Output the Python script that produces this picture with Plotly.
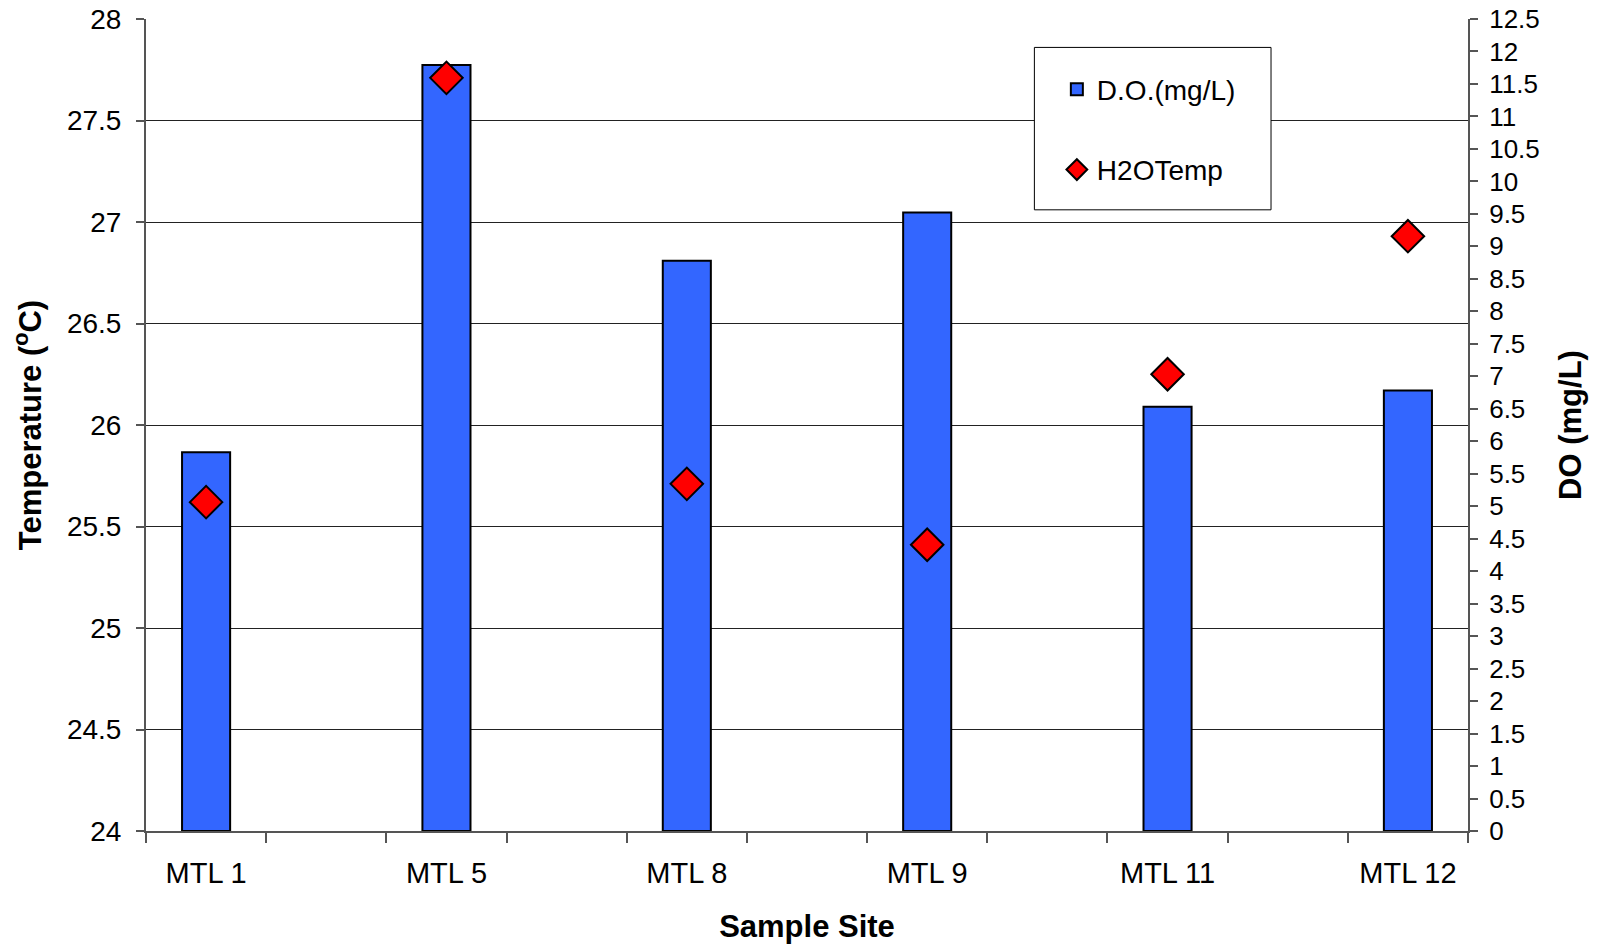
import plotly.graph_objects as go

sites = ["MTL 1", "MTL 5", "MTL 8", "MTL 9", "MTL 11", "MTL 12"]
do_mgL = [5.83, 11.79, 8.78, 9.52, 6.53, 6.78]
temp_C = [25.62, 27.71, 25.71, 25.41, 26.25, 26.93]

temp_ticks = [24 + 0.5 * i for i in range(9)]
do_ticks = [0.5 * i for i in range(26)]

FONT = "Liberation Sans, Arial, sans-serif"
xpos = [2 * i + 0.5 for i in range(len(sites))]

fig = go.Figure()
fig.add_trace(go.Bar(
    x=xpos, y=do_mgL, name="D.O.(mg/L)", yaxis="y", width=0.4,
    marker=dict(color="#3366FF", line=dict(color="black", width=2)),
    legendgroup="a",
))
fig.add_trace(go.Scatter(
    x=xpos, y=temp_C, name="H2OTemp", yaxis="y2", mode="markers",
    marker=dict(symbol="diamond", size=25, color="#FF0000",
                line=dict(color="black", width=2)),
    legendgroup="b",
))

fig.update_layout(
    width=1598, height=947,
    margin=dict(l=146, r=130, t=19, b=116, autoexpand=False),
    paper_bgcolor="white", plot_bgcolor="white",
    font=dict(family=FONT, color="black"),
    showlegend=True,
    legend=dict(x=0.689, y=0.944, xanchor="left", yanchor="top",
                bgcolor="rgba(0,0,0,0)", borderwidth=0,
                font=dict(size=28, family=FONT),
                traceorder="grouped", tracegroupgap=41),
    xaxis=dict(
        range=[0, 11], tickmode="array", tickvals=xpos, ticktext=sites,
        ticks="", tickfont=dict(size=29), ticklabelstandoff=15,
        minor=dict(tickmode="array", tickvals=list(range(12)), ticks="outside",
                   ticklen=10, tickwidth=1.5, tickcolor="#555", showgrid=False),
        showline=True, linecolor="#555", linewidth=2, automargin=False,
        showgrid=False, zeroline=False,
        title=dict(text="<b>Sample Site</b>", font=dict(size=31), standoff=28),
    ),
    yaxis=dict(
        range=[0, 12.5], side="right", tickmode="array", tickvals=do_ticks,
        ticktext=[f"{v:g}" for v in do_ticks],
        ticks="outside", ticklen=8, tickwidth=1.5, tickcolor="#555",
        tickfont=dict(size=26), ticklabelstandoff=6,
        showline=True, linecolor="#555", linewidth=2, automargin=False,
        showgrid=False, zeroline=False,
        title=dict(text="<b>DO (mg/L)</b>", font=dict(size=31), standoff=20),
    ),
    yaxis2=dict(
        range=[24, 28], overlaying="y", side="left", tickmode="array",
        tickvals=temp_ticks, ticktext=[f"{v:g}" for v in temp_ticks],
        ticks="outside", ticklen=8, tickwidth=1.5, tickcolor="#555",
        tickfont=dict(size=28), ticklabelstandoff=9,
        showline=True, linecolor="#555", linewidth=2, automargin=False,
        showgrid=True, gridcolor="#222", gridwidth=1, zeroline=False,
        title=dict(text="<b>Temperature (<sup>o</sup>C)</b>", font=dict(size=31), standoff=16),
    ),
    shapes=[dict(type="rect", xref="paper", yref="paper",
                 x0=0.672, x1=0.851, y0=0.765, y1=0.965,
                 line=dict(color="black", width=1), fillcolor="white", layer="above")],
)

fig.write_html("out.html")
